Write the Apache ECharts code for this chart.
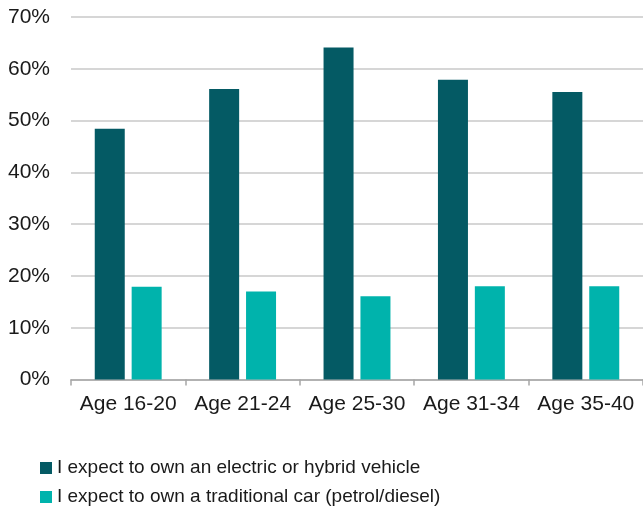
<!DOCTYPE html>
<html>
<head>
<meta charset="utf-8">
<script src="https://cdn.jsdelivr.net/npm/echarts@6/dist/echarts.min.js"></script>
<style>html,body{margin:0;padding:0;background:#fff;}#c{width:643px;height:506px;}</style>
</head>
<body>
<div id="c"></div>
<script>
const categories = ['Age 16-20', 'Age 21-24', 'Age 25-30', 'Age 31-34', 'Age 35-40'];
const electricHybrid = [48.4, 56.1, 64.1, 57.9, 55.5];
const traditionalCar = [17.9, 17.0, 16.1, 18.0, 18.0];
const seriesNames = ['I expect to own an electric or hybrid vehicle', 'I expect to own a traditional car (petrol/diesel)'];
const yTicks = { min: 0, max: 70, interval: 10 };

const chart = echarts.init(document.getElementById('c'), null, { renderer: 'canvas' });
const font = 'Liberation Sans, Arial, sans-serif';
const legendBase = {
  orient: 'horizontal',
  left: 40,
  itemWidth: 12,
  itemHeight: 12,
  itemGap: 10,
  icon: 'rect',
  padding: 0,
  textStyle: { fontSize: 19, color: '#1a1a1a', fontFamily: font, lineHeight: 20 }
};
chart.setOption({
  animation: false,
  textStyle: { fontFamily: font },
  grid: { left: 71, right: 0, top: 17, bottom: 126.5, containLabel: false },
  legend: [
    Object.assign({}, legendBase, { top: 458, data: [seriesNames[0]] }),
    Object.assign({}, legendBase, { top: 487, data: [seriesNames[1]] })
  ],
  xAxis: {
    type: 'category',
    data: categories,
    axisLine: { lineStyle: { color: '#a6a6a6', width: 1.5 } },
    axisTick: { show: true, interval: 0, length: 6, lineStyle: { color: '#a6a6a6', width: 1.5 } },
    axisLabel: { interval: 0, hideOverlap: false, fontSize: 21, color: '#1a1a1a', margin: 14, fontFamily: font }
  },
  yAxis: {
    type: 'value',
    min: yTicks.min, max: yTicks.max, interval: yTicks.interval,
    axisLine: { show: false },
    axisTick: { show: false },
    axisLabel: { fontSize: 21, color: '#1a1a1a', formatter: '{value}%', margin: 21, fontFamily: font },
    splitLine: { lineStyle: { color: '#c8c8c8', width: 1.5 } }
  },
  series: [
    { name: seriesNames[0], type: 'bar', data: electricHybrid, barWidth: 30, barGap: '23%', itemStyle: { color: '#045a64' } },
    { name: seriesNames[1], type: 'bar', data: traditionalCar, barWidth: 30, itemStyle: { color: '#00b3ac' } }
  ]
});
</script>
</body>
</html>
